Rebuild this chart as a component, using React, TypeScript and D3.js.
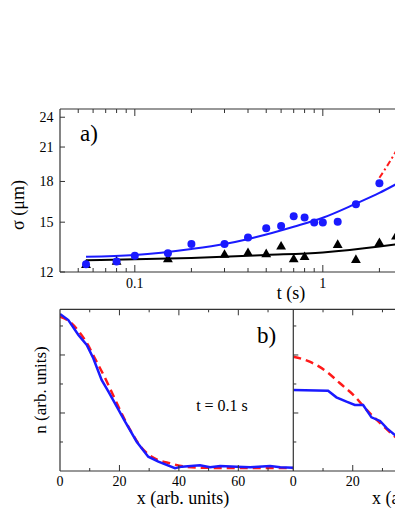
import React from "react";
import * as d3 from "d3";

// ---- Panel a) data ----
const circT = [0.055, 0.08, 0.1, 0.15, 0.2, 0.3, 0.4, 0.5, 0.6, 0.7, 0.8, 0.9, 1.0, 1.2, 1.5, 2.0];
const circS = [12.42, 12.58, 12.91, 13.05, 13.6, 13.6, 14.0, 14.6, 14.75, 15.4, 15.31, 14.97, 14.97, 15.02, 16.26, 17.86];
const triT = [0.055, 0.08, 0.15, 0.3, 0.4, 0.5, 0.6, 0.7, 0.8, 1.2, 1.5, 2.0, 2.45];
const triS = [12.38, 12.55, 12.7, 12.95, 13.05, 12.99, 13.44, 12.7, 12.82, 13.54, 12.66, 13.66, 14.06];
const blueFitT = [0.055, 0.1, 0.2, 0.3, 0.5, 0.7, 1.0, 1.5, 2.0, 2.5];
const blueFitS = [12.85, 12.95, 13.3, 13.6, 14.2, 14.7, 15.3, 16.3, 17.1, 17.85];
const blackFitT = [0.055, 0.1, 0.2, 0.5, 1.0, 2.0, 2.5];
const blackFitS = [12.65, 12.7, 12.78, 12.95, 13.1, 13.45, 13.6];
const redFitT = [2.0, 2.2, 2.45, 3.0];
const redFitS = [18.3, 19.3, 20.6, 23.5];
const yTicksA = [12, 15, 18, 21, 24];
const xMajorA = [0.1, 1];
const xMinorA = [0.05, 0.06, 0.07, 0.08, 0.09, 0.2, 0.3, 0.4, 0.5, 0.6, 0.7, 0.8, 0.9, 2, 3, 4, 5, 6, 7, 8, 9];

// ---- Panel b) data (left, t = 0.1 s) ----
const bLBlueX = [0, 2.8, 6.2, 9.0, 11.2, 14.0, 16.3, 18.5, 21.9, 25.8, 29.7, 33.1, 38.7, 41.0, 47.1, 50.5, 53.9, 59.5, 64.0, 70.7, 74.1, 78.5];
const bLBlueN = [1.083, 1.041, 0.938, 0.869, 0.777, 0.628, 0.547, 0.467, 0.34, 0.202, 0.099, 0.064, 0.019, 0.03, 0.039, 0.026, 0.034, 0.03, 0.026, 0.034, 0.026, 0.023];
const bLRedX = [0, 2.8, 6.2, 9.0, 12, 15, 18, 21, 24, 27, 30, 33, 37, 42, 47, 55, 78.5];
const bLRedN = [1.064, 1.037, 0.966, 0.883, 0.766, 0.648, 0.517, 0.386, 0.269, 0.172, 0.11, 0.076, 0.053, 0.03, 0.023, 0.021, 0.021];
// ---- Panel b) data (right) ----
const bRBlueX = [0, 11.7, 14.5, 17.9, 20.7, 23.5, 26.3, 29.2, 31.5, 34.2, 37];
const bRBlueN = [0.559, 0.554, 0.508, 0.478, 0.455, 0.455, 0.37, 0.345, 0.294, 0.248, 0.2];
const bRRedX = [0, 5.5, 11.2, 15.7, 20.8, 24.7, 29.3, 34.2, 40];
const bRRedN = [0.788, 0.754, 0.685, 0.605, 0.512, 0.421, 0.329, 0.237, 0.13];
const xMajorBLeft = [0, 20, 40, 60];
const xMajorBRight = [0, 20];
const xMinorB = [10, 30, 50, 70];
const nTicksMajor = [0.4, 0.8];
const nTicksMinor = [0.2, 0.6, 1.0];

const FONT = "'Liberation Serif', 'Times New Roman', serif";
const AX = "#333";
const BLUE = "#1a1aff";
const RED = "#ff1a1a";

export default function App() {
  const W = 395, H = 511;
  const ax0 = 60, ay0 = 109, ay1 = 272;
  const xA = d3.scaleLog().domain([0.04, 10]).range([60, 60 + 188 * Math.log10(250)]);
  const yA = d3.scaleLog().domain([12, 24.9]).range([ay1, ay0]);
  const by0 = 309.3, by1 = 471;
  const xL = d3.scaleLinear().domain([0, 78.5]).range([60, 293.3]);
  const xR = d3.scaleLinear().domain([0, 78.5]).range([293.3, 293.3 + 233.3]);
  const yB = d3.scaleLinear().domain([0, 1.115]).range([by1, by0]);

  const lineA = d3.line<[number, number]>().x(d => xA(d[0])).y(d => yA(d[1])).curve(d3.curveMonotoneX);
  const zip = (a: number[], b: number[]) => a.map((v, i) => [v, b[i]] as [number, number]);
  const lineL = d3.line<[number, number]>().x(d => xL(d[0])).y(d => yB(d[1]));
  const lineR = d3.line<[number, number]>().x(d => xR(d[0])).y(d => yB(d[1]));
  const lineLs = d3.line<[number, number]>().x(d => xL(d[0])).y(d => yB(d[1])).curve(d3.curveMonotoneX);
  const lineRs = d3.line<[number, number]>().x(d => xR(d[0])).y(d => yB(d[1])).curve(d3.curveMonotoneX);
  const tri = d3.symbol().type(d3.symbolTriangle).size(42)() as string;
  const ts = { fontFamily: FONT };

  return (
    <svg width={W} height={H} style={{ position: "absolute", left: 0, top: 0, background: "#fff", fontFamily: FONT }}>
      <defs>
        <clipPath id="clipA"><rect x={ax0} y={ay0} width={W - ax0 + 50} height={ay1 - ay0} /></clipPath>
        <clipPath id="clipL"><rect x={60} y={by0} width={233.3} height={by1 - by0} /></clipPath>
        <clipPath id="clipR"><rect x={293.3} y={by0} width={200} height={by1 - by0} /></clipPath>
      </defs>

      {/* ===== Panel a ===== */}
      <g clipPath="url(#clipA)">
        <path d={lineA(zip(blackFitT, blackFitS)) || ""} fill="none" stroke="#000" strokeWidth={2} />
        <path d={lineA(zip(blueFitT, blueFitS)) || ""} fill="none" stroke={BLUE} strokeWidth={2} />
        <path d={lineA(zip(redFitT, redFitS)) || ""} fill="none" stroke={RED} strokeWidth={2} strokeDasharray="6 3 2 3" />
        {triT.map((t, i) => (
          <path key={"t" + i} d={tri} transform={`translate(${xA(t)},${yA(triS[i])})`} fill="#000" />
        ))}
        {circT.map((t, i) => (
          <circle key={"c" + i} cx={xA(t)} cy={yA(circS[i])} r={4} fill={BLUE} />
        ))}
      </g>
      <line x1={ax0} x2={W} y1={ay0} y2={ay0} stroke={AX} strokeWidth={1.2} />
      <line x1={ax0} x2={W} y1={ay1} y2={ay1} stroke={AX} strokeWidth={1.2} />
      <line x1={ax0} x2={ax0} y1={ay0} y2={ay1} stroke={AX} strokeWidth={1.2} />
      {xMajorA.map(v => (
        <g key={"xa" + v}>
          <line x1={xA(v)} x2={xA(v)} y1={ay1} y2={ay1 - 7} stroke={AX} />
          <line x1={xA(v)} x2={xA(v)} y1={ay0} y2={ay0 + 7} stroke={AX} />
          <text x={xA(v)} y={288} textAnchor="middle" fontSize={14} style={ts}>{v}</text>
        </g>
      ))}
      {xMinorA.map(v => (
        <g key={"xm" + v}>
          <line x1={xA(v)} x2={xA(v)} y1={ay1} y2={ay1 - 4} stroke={AX} />
          <line x1={xA(v)} x2={xA(v)} y1={ay0} y2={ay0 + 4} stroke={AX} />
        </g>
      ))}
      {yTicksA.map(v => (
        <g key={"ya" + v}>
          <line x1={ax0} x2={ax0 + 5} y1={yA(v)} y2={yA(v)} stroke={AX} />
          <text x={53.5} y={yA(v) + 5} textAnchor="end" fontSize={14} style={ts}>{v}</text>
        </g>
      ))}
      <text x={291} y={299} textAnchor="middle" fontSize={18} style={ts}>t (s)</text>
      <text transform={`translate(24,205) rotate(-90)`} textAnchor="middle" fontSize={18} style={ts}>σ (μm)</text>
      <text x={80} y={141} fontSize={23} style={ts}>a)</text>

      {/* ===== Panel b ===== */}
      <g clipPath="url(#clipL)">
        <path d={lineLs(zip(bLRedX, bLRedN)) || ""} fill="none" stroke={RED} strokeWidth={2.5} strokeDasharray="8 5" />
        <path d={lineL(zip(bLBlueX, bLBlueN)) || ""} fill="none" stroke={BLUE} strokeWidth={2.5} />
      </g>
      <g clipPath="url(#clipR)">
        <path d={lineRs(zip(bRRedX, bRRedN)) || ""} fill="none" stroke={RED} strokeWidth={2.5} strokeDasharray="8 5" />
        <path d={lineR(zip(bRBlueX, bRBlueN)) || ""} fill="none" stroke={BLUE} strokeWidth={2.5} />
      </g>
      <line x1={60} x2={W} y1={by0} y2={by0} stroke={AX} strokeWidth={1.2} />
      <line x1={60} x2={W} y1={by1} y2={by1} stroke={AX} strokeWidth={1.2} />
      <line x1={60} x2={60} y1={by0} y2={by1} stroke={AX} strokeWidth={1.2} />
      <line x1={293.3} x2={293.3} y1={by0} y2={by1} stroke={AX} strokeWidth={1.2} />
      {[xL, xR].map((sc, k) => (
        <g key={"bx" + k}>
          {(k === 0 ? xMajorBLeft : xMajorBRight).map(v => (
            <g key={"bM" + v}>
              {v > 0 && <line x1={sc(v)} x2={sc(v)} y1={by1} y2={by1 - 6} stroke={AX} />}
              {v > 0 && <line x1={sc(v)} x2={sc(v)} y1={by0} y2={by0 + 6} stroke={AX} />}
              <text x={sc(v)} y={486} textAnchor="middle" fontSize={14} style={ts}>{v}</text>
            </g>
          ))}
          {xMinorB.map(v => (
            <g key={"bm" + v}>
              <line x1={sc(v)} x2={sc(v)} y1={by1} y2={by1 - 3} stroke={AX} />
              <line x1={sc(v)} x2={sc(v)} y1={by0} y2={by0 + 3} stroke={AX} />
            </g>
          ))}
          {nTicksMajor.map(v => (
            <line key={"nM" + v} x1={sc(0)} x2={sc(0) + 5} y1={yB(v)} y2={yB(v)} stroke={AX} />
          ))}
          {nTicksMinor.map(v => (
            <line key={"nm" + v} x1={sc(0)} x2={sc(0) + 3} y1={yB(v)} y2={yB(v)} stroke={AX} />
          ))}
        </g>
      ))}
      <text x={222} y={411} textAnchor="middle" fontSize={16} style={ts}>t = 0.1 s</text>
      <text x={257} y={343} fontSize={23} style={ts}>b)</text>
      <text x={183} y={504} textAnchor="middle" fontSize={18} style={ts}>x (arb. units)</text>
      <text x={372} y={504} textAnchor="start" fontSize={18} style={ts}>x (arb. units)</text>
      <text transform={`translate(46,390) rotate(-90)`} textAnchor="middle" fontSize={17} style={ts}>n (arb. units)</text>
    </svg>
  );
}
